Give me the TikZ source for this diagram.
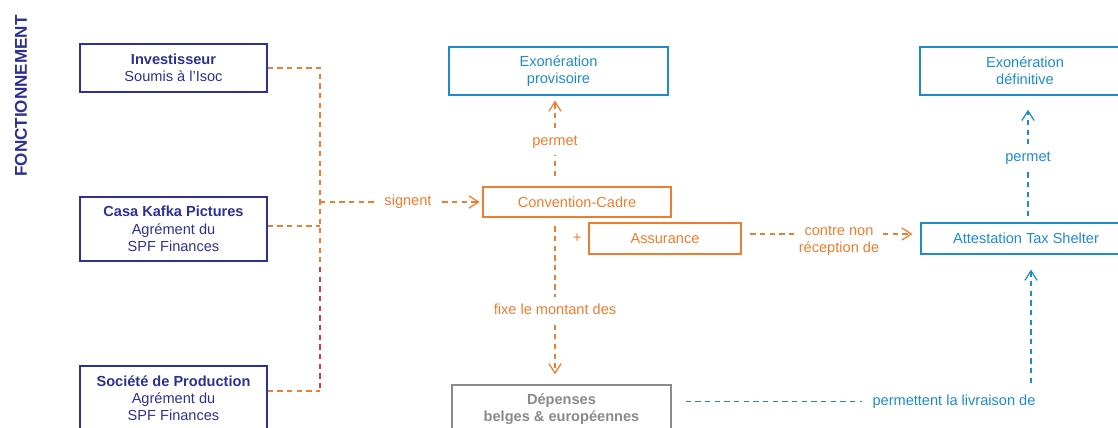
\documentclass[tikz,border=0pt]{standalone}
\usepackage{fontspec}
\setmainfont{Liberation Sans}
\usepackage{tikz}
\usetikzlibrary{arrows.meta}
\definecolor{navy}{HTML}{2E3192}
\definecolor{tsblue}{HTML}{1E8BCB}
\definecolor{tsorange}{HTML}{EE7D2E}
\definecolor{tsred}{HTML}{D63A40}
\definecolor{tsgray}{HTML}{8A8A8A}

\begin{document}
\begin{tikzpicture}[x=0.02cm,y=-0.02cm,
  txt/.style={font=\fontsize{8.3}{9.8}\selectfont,align=center},
  box/.style={txt,draw,line width=0.75pt,inner sep=0pt},
  navybox/.style={box,draw=navy,text=navy,minimum width=3.74cm},
  bluebox/.style={box,draw=tsblue,text=tsblue},
  orangebox/.style={box,draw=tsorange,text=tsorange},
  graybox/.style={box,draw=tsgray,text=tsgray},
  lbl/.style={txt,inner xsep=6pt,inner ysep=3.5pt,text height=6.2pt,text depth=1.8pt},
  dline/.style={dash pattern=on 3pt off 2.5pt,line width=0.7pt},
  orangeline/.style={dline,draw=tsorange},
  redline/.style={dline,draw=tsred},
  blueline/.style={dline,draw=tsblue},
  tip/.style={-{Straight Barb[length=5.5pt,width=7pt]}}]
  \useasboundingbox (0,0) rectangle (1118,428);
  \clip (0,0) rectangle (1118,428);

  \node (title) at (21, 96)[rotate=90,font=\fontsize{9.7}{11}\selectfont\bfseries,text=navy]{FONCTIONNEMENT};

  \node (inv) at (173.5, 68)[navybox,minimum height=0.96cm]{\textbf{Investisseur}\\Soumis à l’Isoc};
  \node (casa) at (173.5, 229)[navybox,minimum height=1.28cm]{\textbf{Casa Kafka Pictures}\\Agrément du\\SPF Finances};
  \node (soc) at (173.5, 398)[navybox,minimum height=1.28cm]{\textbf{Société de Production}\\Agrément du\\SPF Finances};

  \node (prov) at (558.5, 71)[bluebox,minimum width=4.38cm,minimum height=0.96cm]{Exonération\\provisoire};
  \node (conv) at (577, 202)[orangebox,minimum width=3.76cm,minimum height=0.6cm]{Convention-Cadre};
  \node (plus) at (577, 238)[txt,text=tsorange]{+};
  \node (assur) at (665, 238.5)[orangebox,minimum width=3.04cm,minimum height=0.62cm]{Assurance};
  \node (dep) at (561.5, 409.5)[graybox,minimum width=4.38cm,minimum height=0.98cm]{\textbf{Dépenses}\\\textbf{belges \& européennes}};
  \node (def) at (1025, 71)[bluebox,minimum width=4.2cm,minimum height=0.96cm]{Exonération\\définitive};
  \node (att) at (1026, 238.5)[bluebox,minimum width=4.2cm,minimum height=0.62cm]{Attestation Tax Shelter};

  \node (sig) at (408, 202)[lbl,text=tsorange]{signent};
  \node (perm1) at (555, 141.5)[lbl,text=tsorange]{permet};
  \node (fixe) at (555, 311)[lbl,text=tsorange]{fixe le montant des};
  \node (contre) at (839, 240.5)[txt,inner xsep=2pt,text=tsorange]{contre non\\réception de};
  \node (perm2) at (1028, 158)[lbl,text=tsblue]{permet};
  \node (liv) at (954, 401.5)[lbl,text=tsblue]{permettent la livraison de};

  \coordinate (jtop) at (320, 68);
  \coordinate (jsig) at (320, 202);
  \coordinate (jcasa) at (320, 226);
  \coordinate (jred) at (320, 267);
  \coordinate (jbot) at (320, 391);
  \coordinate (cy) at (0, 234);
  \coordinate (livup) at (1031, 383);

  \draw [orangeline] (inv.east) -- (jtop) -- (jred);
  \draw [orangeline] (casa.east |- jcasa) -- (jcasa);
  \draw [orangeline] (soc.east |- jbot) -- (jbot);
  \draw [redline] (jred) -- (jbot);
  \draw [orangeline] (jsig) -- (sig.west);
  \draw [orangeline,tip,shorten >=1.5pt] (sig.east) -- (conv.west);
  \draw [orangeline,shorten <=6pt] (perm1 |- conv.north) -- (perm1.south);
  \draw [orangeline,tip,shorten >=2.8pt] (perm1.north) -- (perm1 |- prov.south);
  \draw [orangeline,shorten <=5pt] (fixe |- conv.south) -- (fixe.north);
  \draw [orangeline,tip,shorten >=5.7pt] (fixe.south) -- (fixe |- dep.north);
  \draw [orangeline,shorten <=5pt] (assur.east |- cy) -- (contre.west |- cy);
  \draw [orangeline,tip,shorten >=4.5pt] (contre.east |- cy) -- (att.west |- cy);
  \draw [blueline,shorten <=3.4pt] (perm2 |- att.north) -- (perm2.south);
  \draw [blueline,tip,shorten >=8pt] (perm2.north) -- (perm2 |- def.south);
  \draw [blueline,shorten <=8pt] (dep.east |- liv) -- (liv.west);
  \draw [blueline,tip,shorten >=8.5pt] (livup) -- (livup |- att.south);
\end{tikzpicture}
\end{document}
